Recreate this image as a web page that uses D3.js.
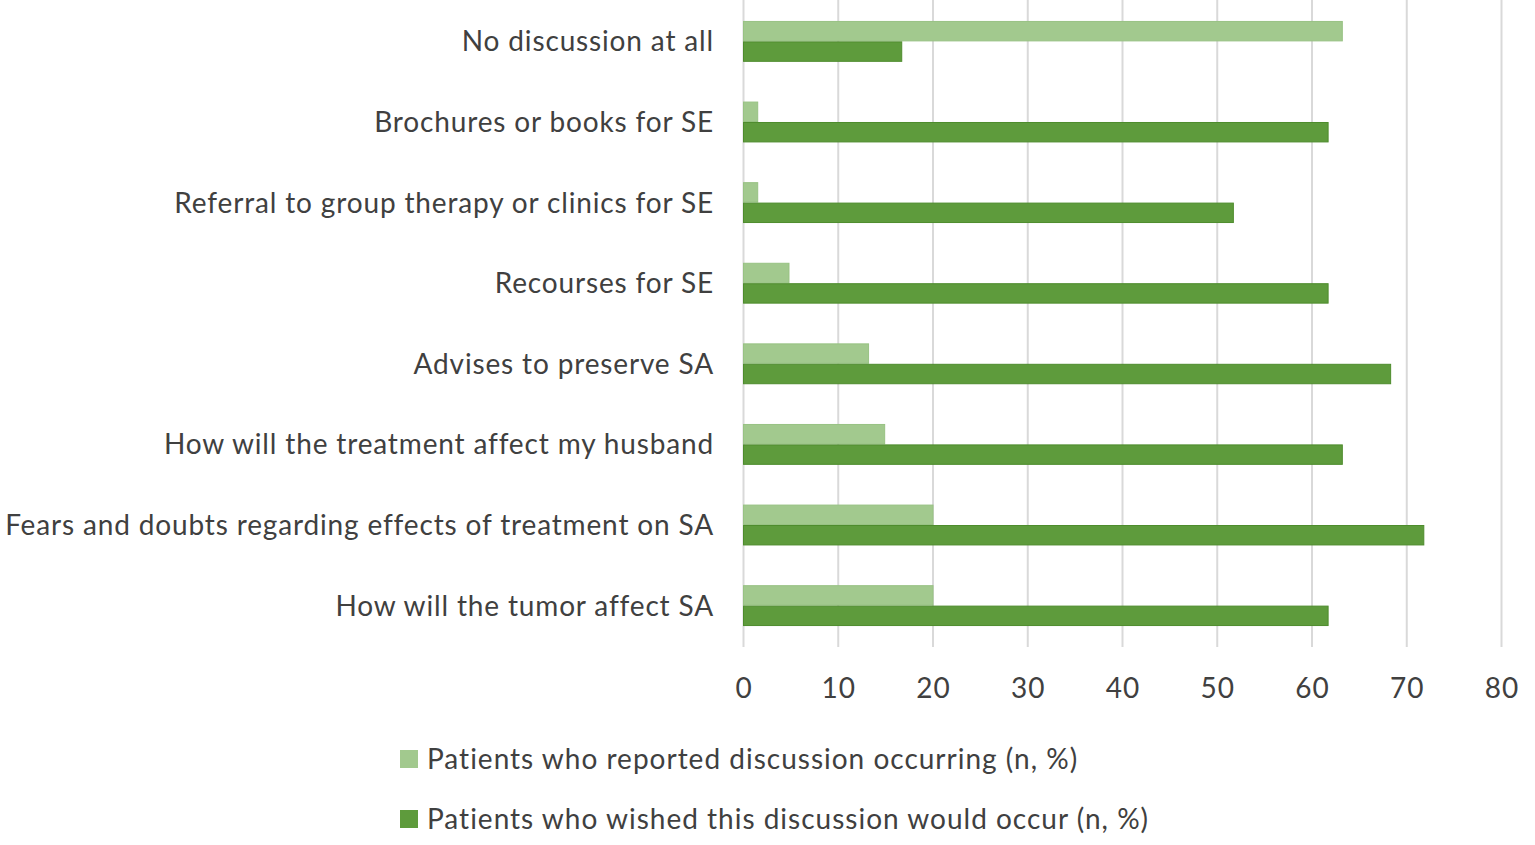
<!DOCTYPE html>
<html>
<head>
<meta charset="utf-8">
<script src="https://cdn.jsdelivr.net/npm/d3@7"></script>
<style>
  body { margin: 0; background: #fff; }
  text { font-family: Lato, "Open Sans", sans-serif; fill: #404040; letter-spacing: 1px; }
  .cat-label { letter-spacing: 0.85px; }
</style>
</head>
<body>
<svg id="chart" width="1535" height="845"></svg>
<script>
const categories = [
  "No discussion at all",
  "Brochures or books for SE",
  "Referral to group therapy or clinics for SE",
  "Recourses for SE",
  "Advises to preserve SA",
  "How will the treatment affect my husband",
  "Fears and doubts regarding effects of treatment on SA",
  "How will the tumor affect SA"
];
const reported = [63.2, 1.5, 1.5, 4.8, 13.2, 14.9, 20, 20];
const wished = [16.7, 61.7, 51.7, 61.7, 68.3, 63.2, 71.8, 61.7];
const seriesNames = [
  "Patients who reported discussion occurring (n, %)",
  "Patients who wished this discussion would occur (n, %)"
];
const xTicks = [0, 10, 20, 30, 40, 50, 60, 70, 80];

const colors = ["#a2c98e", "#5e9b3c"];
const strokes = ["#98c283", "#4e8c2d"];

const svg = d3.select("#chart");

const x = d3.scaleLinear().domain([0, 80]).range([743.5, 1501.5]);
const y = d3.scaleBand().domain(categories).range([0, 647])
  .paddingInner(0.493).paddingOuter(0.26);
const sub = d3.scaleBand().domain([0, 1]).range([0, y.bandwidth()]);

// gridlines
svg.append("g")
  .selectAll("line")
  .data(xTicks)
  .join("line")
  .attr("x1", d => x(d)).attr("x2", d => x(d))
  .attr("y1", 0).attr("y2", 647)
  .attr("stroke", "#d9d9d9")
  .attr("stroke-width", 2);

// bars
const rows = categories.map((c, i) => ({ cat: c, vals: [reported[i], wished[i]] }));
const g = svg.append("g")
  .selectAll("g")
  .data(rows)
  .join("g")
  .attr("transform", d => "translate(0," + y(d.cat) + ")");

g.selectAll("rect")
  .data(d => d.vals.map((v, k) => ({ v, k })))
  .join("rect")
  .attr("x", x(0))
  .attr("y", d => sub(d.k) + 0.5)
  .attr("width", d => x(d.v) - x(0))
  .attr("height", sub.bandwidth() - 1)
  .attr("fill", d => colors[d.k])
  .attr("stroke", d => strokes[d.k])
  .attr("stroke-width", 1);

// category labels
svg.append("g")
  .selectAll("text")
  .data(categories)
  .join("text")
  .attr("class", "cat-label")
  .attr("x", 714)
  .attr("y", d => y(d) + y.bandwidth() / 2)
  .attr("dy", "0.36em")
  .attr("text-anchor", "end")
  .attr("font-size", 28)
  .text(d => d);

// x axis tick labels
const xAxis = svg.append("g")
  .attr("transform", "translate(0,660)")
  .call(d3.axisBottom(x).tickValues(xTicks).tickSize(0).tickPadding(0));
xAxis.select(".domain").remove();
xAxis.selectAll("text")
  .attr("y", 38)
  .attr("dy", 0)
  .attr("font-size", 28)
  .attr("font-family", null)
  .attr("fill", "#404040");

// legend
const legend = svg.append("g")
  .selectAll("g")
  .data(seriesNames)
  .join("g")
  .attr("transform", (d, i) => "translate(400," + (750 + i * 60) + ")");
legend.append("rect")
  .attr("width", 18).attr("height", 18)
  .attr("fill", (d, i) => colors[i]);
legend.append("text")
  .attr("x", 27)
  .attr("y", 19)
  .attr("font-size", 28)
  .text(d => d);
</script>
</body>
</html>
